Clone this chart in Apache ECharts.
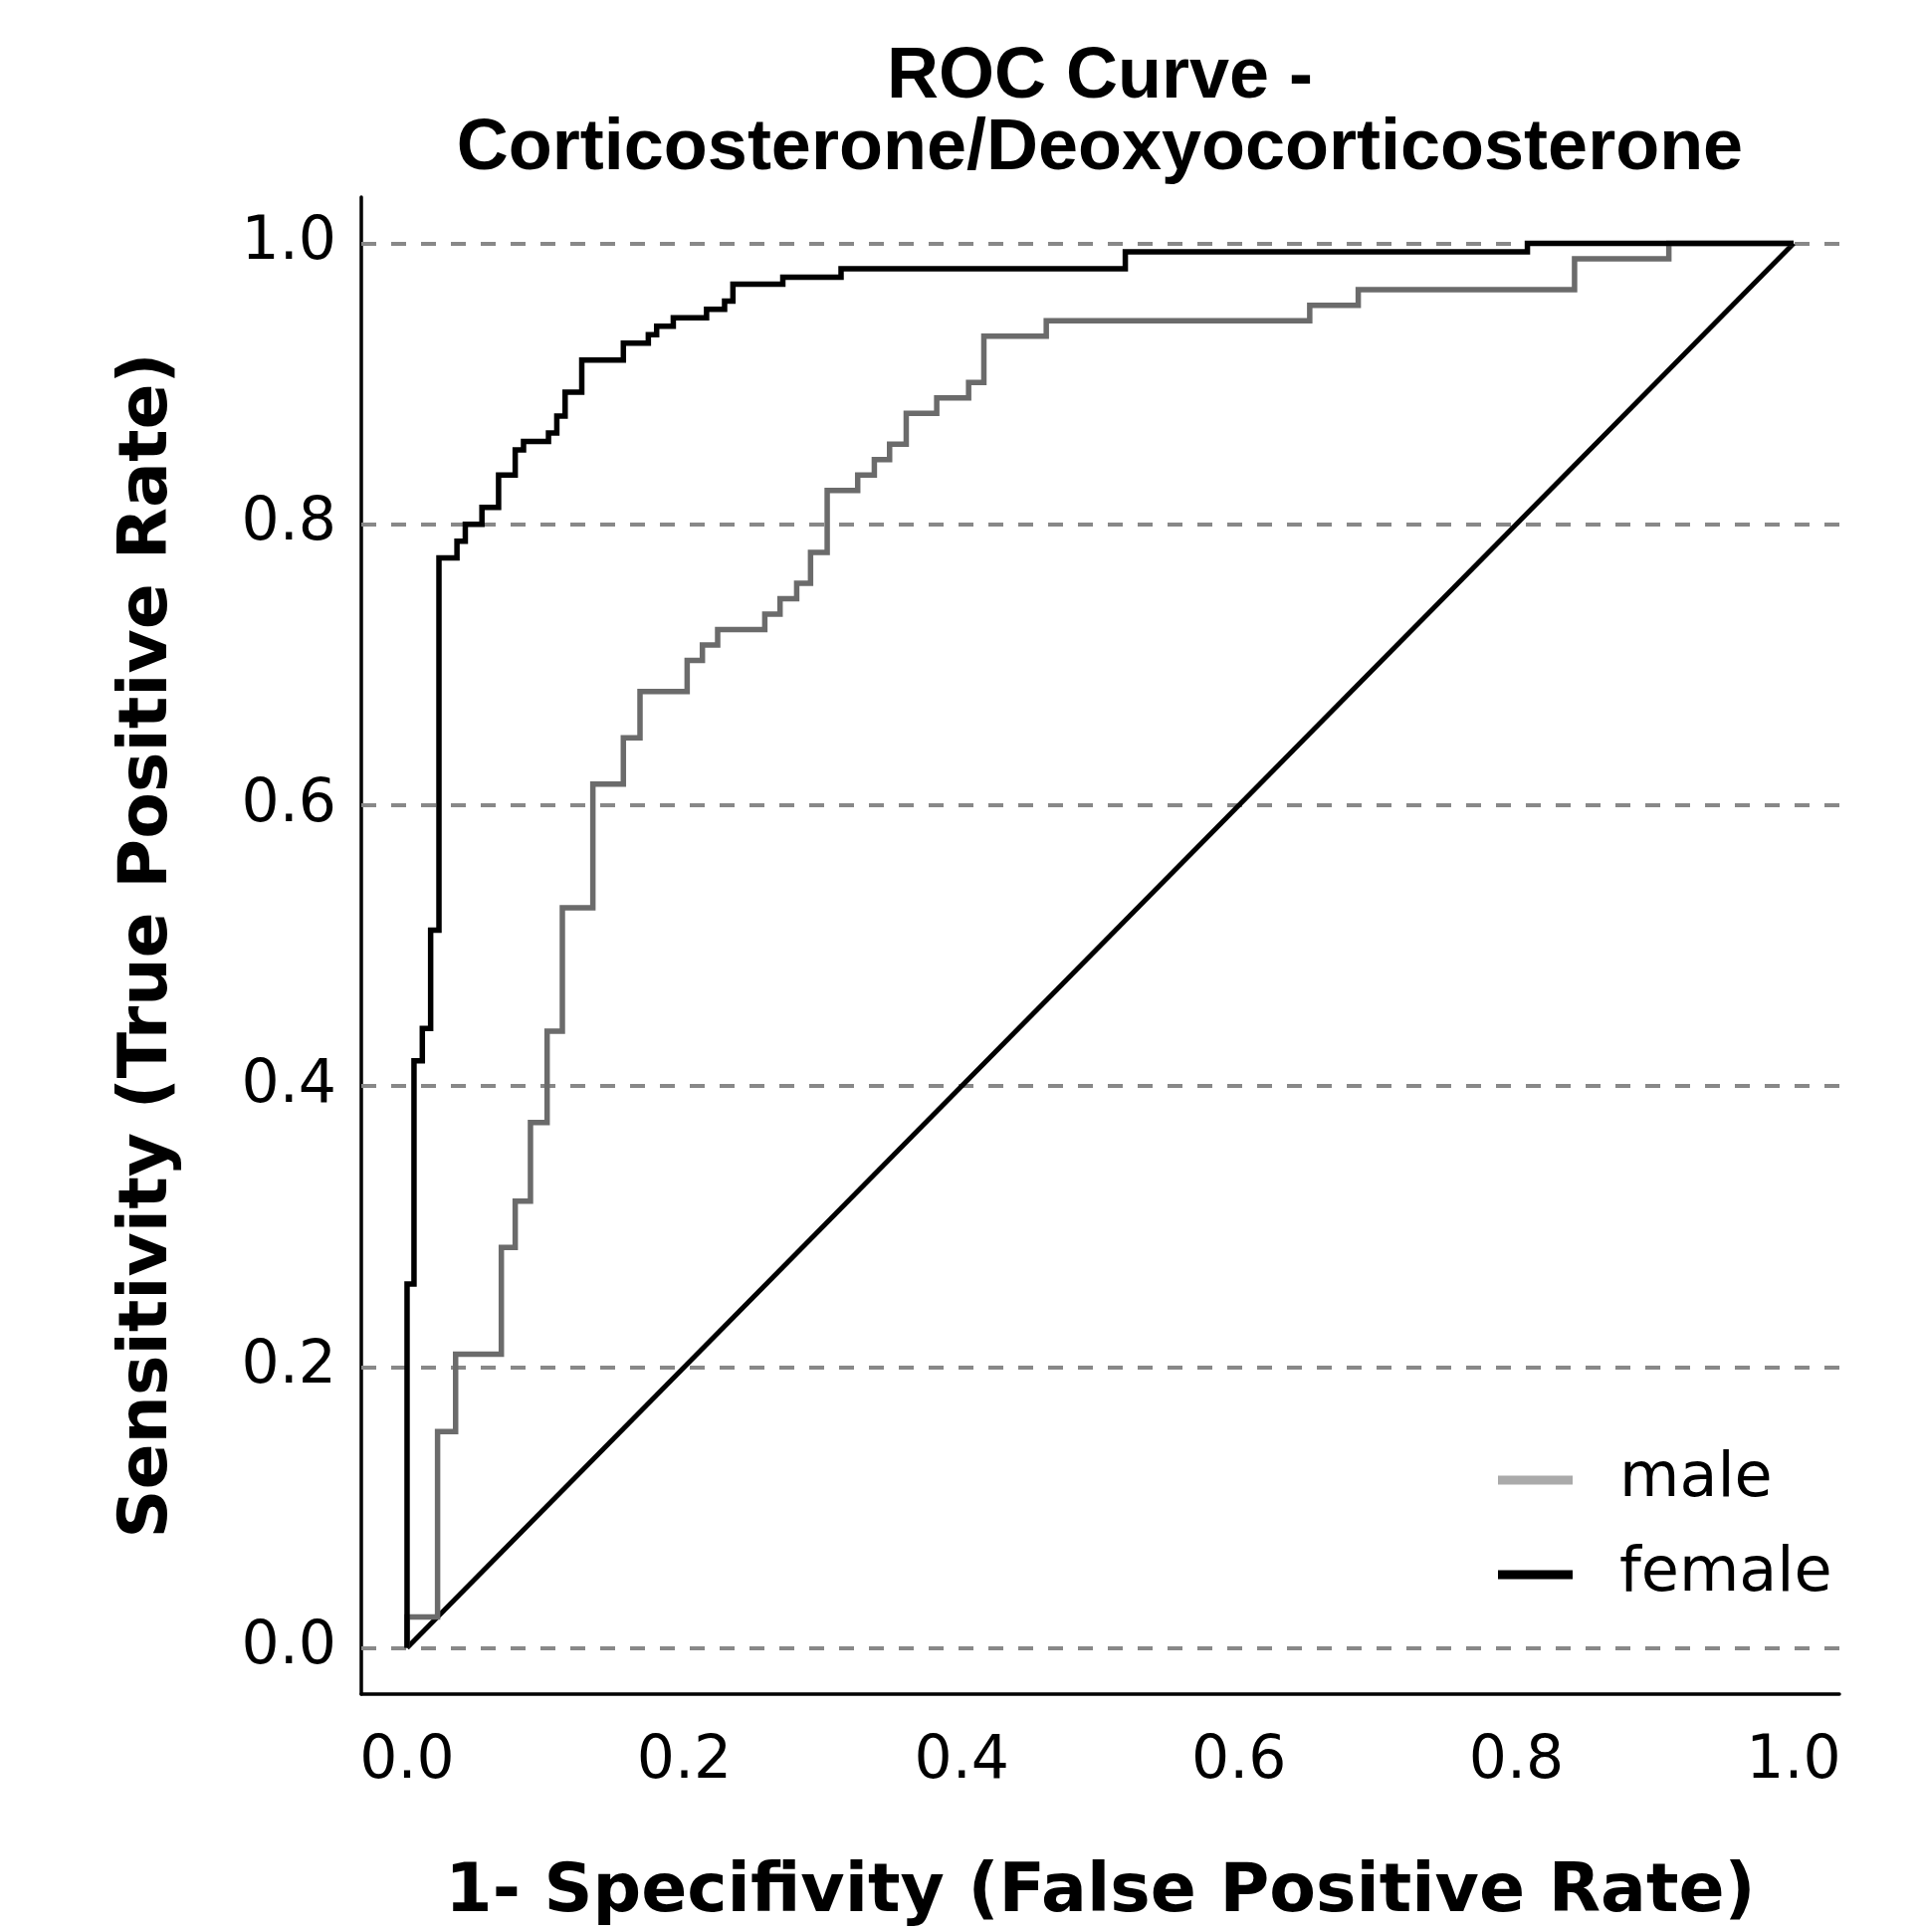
<!DOCTYPE html>
<html>
<head>
    <meta charset="utf-8">
    <script src="https://cdn.jsdelivr.net/npm/echarts@6.0.0/dist/echarts.min.js"></script>
</head>
<body>
<style>
    html, body, #main {
        width: 100%;
        height: 100%;
        margin: 0;
        padding: 0;
        background: #fff;
    }
</style>
<div id="main"></div>
<script>
    // axis ticks
    var tickValues = [0, 0.2, 0.4, 0.6, 0.8, 1.0];
    var tickLabels = ['0.0', '0.2', '0.4', '0.6', '0.8', '1.0'];

    // ROC points (1 - specificity, sensitivity)
    var maleFpr = [0, 0, 0.022, 0.035, 0.068, 0.078, 0.089, 0.101, 0.112, 0.134, 0.156, 0.168,
        0.202, 0.213, 0.224, 0.258, 0.269, 0.281, 0.291, 0.303, 0.325, 0.337, 0.348, 0.360,
        0.382, 0.405, 0.416, 0.461, 0.651, 0.686, 0.842, 0.910, 1.0];
    var maleTpr = [0, 0.022, 0.154, 0.209, 0.285, 0.318, 0.374, 0.439, 0.527, 0.615, 0.648, 0.681,
        0.703, 0.714, 0.725, 0.736, 0.747, 0.758, 0.780, 0.824, 0.835, 0.846, 0.857, 0.879,
        0.890, 0.901, 0.934, 0.945, 0.956, 0.967, 0.989, 1.0, 1.0];

    var femaleFpr = [0, 0, 0.005, 0.011, 0.017, 0.023, 0.036, 0.042, 0.054, 0.066, 0.078, 0.084,
        0.102, 0.108, 0.114, 0.126, 0.156, 0.174, 0.180, 0.192, 0.216, 0.229, 0.235, 0.271,
        0.313, 0.518, 0.808, 1.0];
    var femaleTpr = [0, 0.259, 0.418, 0.441, 0.511, 0.776, 0.788, 0.800, 0.812, 0.835, 0.853, 0.859,
        0.865, 0.877, 0.894, 0.917, 0.929, 0.935, 0.941, 0.947, 0.953, 0.959, 0.971, 0.976,
        0.982, 0.994, 1.0, 1.0];

    var chanceFpr = [0, 1];
    var chanceTpr = [0, 1];

    function pairs(xs, ys) {
        return xs.map(function (x, i) {
            return [x, ys[i]];
        });
    }

    function tickLabel(v) {
        for (var i = 0; i < tickValues.length; i++) {
            if (Math.abs(tickValues[i] - v) < 1e-6) {
                return tickLabels[i];
            }
        }
        return '';
    }

    var chart = echarts.init(document.getElementById('main'));

    var labelFont = 'DejaVu Sans';

    chart.setOption({
        animation: false,
        backgroundColor: '#fff',
        title: {
            text: 'ROC Curve -\nCorticosterone/Deoxyocorticosterone',
            left: 1105,
            top: 42,
            textAlign: 'center',
            padding: 0,
            textStyle: {
                fontFamily: 'Liberation Sans',
                fontWeight: 'bold',
                fontSize: 72,
                lineHeight: 72,
                color: '#000'
            }
        },
        legend: {
            orient: 'vertical',
            left: 1500,
            top: 1451,
            icon: 'rect',
            itemWidth: 75,
            itemHeight: 9,
            itemGap: 33,
            textStyle: {
                fontFamily: labelFont,
                fontSize: 62,
                color: '#000',
                padding: [0, 0, 0, 42]
            },
            data: [
                {name: 'male', itemStyle: {color: '#aaaaaa'}},
                {name: 'female', itemStyle: {color: '#000'}}
            ]
        },
        grid: {
            left: 363,
            top: 198,
            right: 83,
            bottom: 233,
            containLabel: false
        },
        xAxis: {
            type: 'value',
            min: -0.033,
            max: 1.033,
            name: '1- Specifivity (False Positive Rate)',
            nameLocation: 'middle',
            nameGap: 166,
            nameTextStyle: {
                fontFamily: labelFont,
                fontWeight: 'bold',
                fontSize: 68,
                color: '#000'
            },
            axisLine: {show: true, onZero: false, lineStyle: {color: '#000', width: 3.5}},
            axisTick: {show: false},
            splitLine: {show: false},
            axisLabel: {
                customValues: tickValues,
                formatter: tickLabel,
                fontFamily: labelFont,
                fontSize: 60,
                color: '#000',
                margin: 38
            }
        },
        yAxis: {
            type: 'value',
            min: -0.033,
            max: 1.033,
            name: 'Sensitivity (True Positive Rate)',
            nameLocation: 'middle',
            nameGap: 180,
            nameTextStyle: {
                fontFamily: labelFont,
                fontWeight: 'bold',
                fontSize: 68,
                color: '#000'
            },
            axisLine: {show: true, onZero: false, lineStyle: {color: '#000', width: 3.5}},
            axisTick: {show: false},
            splitLine: {show: false},
            axisLabel: {
                customValues: tickValues,
                formatter: tickLabel,
                fontFamily: labelFont,
                fontSize: 60,
                color: '#000',
                margin: 25
            }
        },
        series: [
            {
                name: 'chance',
                type: 'line',
                data: pairs(chanceFpr, chanceTpr),
                showSymbol: false,
                symbol: 'none',
                z: 3,
                lineStyle: {color: '#000', width: 5},
                markLine: {
                    silent: true,
                    symbol: 'none',
                    z: 1,
                    label: {show: false},
                    lineStyle: {type: [15, 15], color: '#888', width: 4},
                    data: tickValues.map(function (v) {
                        return {yAxis: v};
                    })
                }
            },
            {
                name: 'male',
                type: 'line',
                step: 'end',
                data: pairs(maleFpr, maleTpr),
                showSymbol: false,
                symbol: 'none',
                z: 4,
                color: '#6b6b6b',
                lineStyle: {color: '#6b6b6b', width: 5.5, join: 'miter'}
            },
            {
                name: 'female',
                type: 'line',
                step: 'end',
                data: pairs(femaleFpr, femaleTpr),
                showSymbol: false,
                symbol: 'none',
                z: 5,
                color: '#000',
                lineStyle: {color: '#000', width: 5.5, join: 'miter'}
            }
        ]
    });

    window.onresize = function () {
        chart.resize();
    };
</script>
</body>
</html>
